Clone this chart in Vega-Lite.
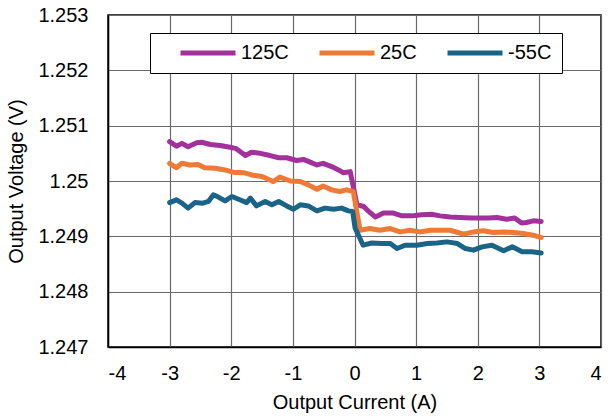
{
  "$schema": "https://vega.github.io/schema/vega-lite/v6.json",
  "width": 493,
  "height": 332,
  "autosize": {"type": "none"},
  "padding": {"left": 108, "top": 15, "right": 7, "bottom": 73},
  "background": "white",
  "config": {
    "font": "Liberation Sans",
    "view": {"stroke": "#000", "strokeWidth": 1.5}
  },
  "datasets": {
    "d125": [
      {"x": -3.0, "y": 1.25071}, {"x": -2.89, "y": 1.25063}, {"x": -2.8, "y": 1.25068}, {"x": -2.7, "y": 1.25062},
      {"x": -2.56, "y": 1.25069}, {"x": -2.48, "y": 1.2507}, {"x": -2.34, "y": 1.25066}, {"x": -2.18, "y": 1.25064},
      {"x": -2.02, "y": 1.25061}, {"x": -1.93, "y": 1.25059}, {"x": -1.77, "y": 1.25046}, {"x": -1.67, "y": 1.25052},
      {"x": -1.53, "y": 1.2505}, {"x": -1.37, "y": 1.25046}, {"x": -1.23, "y": 1.25042}, {"x": -1.1, "y": 1.25042},
      {"x": -0.94, "y": 1.25037}, {"x": -0.83, "y": 1.25039}, {"x": -0.72, "y": 1.25034}, {"x": -0.61, "y": 1.25029},
      {"x": -0.51, "y": 1.25032}, {"x": -0.37, "y": 1.25026}, {"x": -0.26, "y": 1.2502}, {"x": -0.18, "y": 1.25015},
      {"x": -0.07, "y": 1.25017}, {"x": 0.04, "y": 1.24957}, {"x": 0.15, "y": 1.24954}, {"x": 0.23, "y": 1.24945},
      {"x": 0.34, "y": 1.24935}, {"x": 0.47, "y": 1.24942}, {"x": 0.63, "y": 1.24942}, {"x": 0.77, "y": 1.24937},
      {"x": 0.93, "y": 1.24937}, {"x": 1.09, "y": 1.24939}, {"x": 1.25, "y": 1.2494}, {"x": 1.39, "y": 1.24937},
      {"x": 1.55, "y": 1.24935}, {"x": 1.71, "y": 1.24934}, {"x": 1.9, "y": 1.24933}, {"x": 2.04, "y": 1.24933},
      {"x": 2.17, "y": 1.24933}, {"x": 2.31, "y": 1.24934}, {"x": 2.47, "y": 1.24931}, {"x": 2.6, "y": 1.24933},
      {"x": 2.71, "y": 1.24924}, {"x": 2.79, "y": 1.24925}, {"x": 2.9, "y": 1.24928}, {"x": 3.03, "y": 1.24927}
    ],
    "d25": [
      {"x": -3.0, "y": 1.25032}, {"x": -2.89, "y": 1.25024}, {"x": -2.8, "y": 1.25032}, {"x": -2.67, "y": 1.25029},
      {"x": -2.54, "y": 1.2503}, {"x": -2.43, "y": 1.25024}, {"x": -2.26, "y": 1.25023}, {"x": -2.1, "y": 1.2502},
      {"x": -1.97, "y": 1.25016}, {"x": -1.8, "y": 1.25015}, {"x": -1.67, "y": 1.25011}, {"x": -1.5, "y": 1.25008},
      {"x": -1.32, "y": 1.24999}, {"x": -1.21, "y": 1.25007}, {"x": -1.04, "y": 1.25}, {"x": -0.88, "y": 1.24999},
      {"x": -0.75, "y": 1.24993}, {"x": -0.61, "y": 1.24985}, {"x": -0.51, "y": 1.24991}, {"x": -0.37, "y": 1.24984},
      {"x": -0.24, "y": 1.24981}, {"x": -0.13, "y": 1.24984}, {"x": -0.02, "y": 1.24981}, {"x": 0.09, "y": 1.24911},
      {"x": 0.25, "y": 1.24914}, {"x": 0.41, "y": 1.24911}, {"x": 0.58, "y": 1.24914}, {"x": 0.74, "y": 1.24908},
      {"x": 0.9, "y": 1.24911}, {"x": 1.06, "y": 1.24908}, {"x": 1.23, "y": 1.24911}, {"x": 1.39, "y": 1.24911},
      {"x": 1.55, "y": 1.24911}, {"x": 1.77, "y": 1.24904}, {"x": 1.93, "y": 1.24908}, {"x": 2.09, "y": 1.2491},
      {"x": 2.25, "y": 1.24907}, {"x": 2.42, "y": 1.24908}, {"x": 2.58, "y": 1.24907}, {"x": 2.74, "y": 1.24905},
      {"x": 2.9, "y": 1.24902}, {"x": 3.03, "y": 1.24898}
    ],
    "dm55": [
      {"x": -3.0, "y": 1.24961}, {"x": -2.89, "y": 1.24966}, {"x": -2.8, "y": 1.2496}, {"x": -2.7, "y": 1.24951},
      {"x": -2.59, "y": 1.24961}, {"x": -2.46, "y": 1.2496}, {"x": -2.37, "y": 1.24963}, {"x": -2.29, "y": 1.24975},
      {"x": -2.21, "y": 1.24971}, {"x": -2.1, "y": 1.24964}, {"x": -1.99, "y": 1.24972}, {"x": -1.86, "y": 1.24966},
      {"x": -1.75, "y": 1.24961}, {"x": -1.69, "y": 1.24969}, {"x": -1.59, "y": 1.24955}, {"x": -1.45, "y": 1.24963},
      {"x": -1.34, "y": 1.24957}, {"x": -1.23, "y": 1.24963}, {"x": -1.1, "y": 1.24955}, {"x": -0.99, "y": 1.24949},
      {"x": -0.88, "y": 1.24957}, {"x": -0.75, "y": 1.24955}, {"x": -0.61, "y": 1.24946}, {"x": -0.48, "y": 1.24951},
      {"x": -0.34, "y": 1.24949}, {"x": -0.21, "y": 1.24951}, {"x": -0.1, "y": 1.24946}, {"x": -0.03, "y": 1.24945},
      {"x": 0.01, "y": 1.24915}, {"x": 0.14, "y": 1.24884}, {"x": 0.28, "y": 1.24888}, {"x": 0.44, "y": 1.24887},
      {"x": 0.58, "y": 1.24887}, {"x": 0.69, "y": 1.24878}, {"x": 0.82, "y": 1.24884}, {"x": 1.01, "y": 1.24884},
      {"x": 1.18, "y": 1.24887}, {"x": 1.34, "y": 1.24888}, {"x": 1.5, "y": 1.2489}, {"x": 1.67, "y": 1.24887},
      {"x": 1.8, "y": 1.24878}, {"x": 1.93, "y": 1.24875}, {"x": 2.07, "y": 1.24881}, {"x": 2.23, "y": 1.24884},
      {"x": 2.42, "y": 1.24874}, {"x": 2.56, "y": 1.24881}, {"x": 2.72, "y": 1.24872}, {"x": 2.88, "y": 1.24872},
      {"x": 3.03, "y": 1.2487}
    ]
  },
  "layer": [
    {
      "data": {"name": "d125"},
      "transform": [{"calculate": "'125C'", "as": "series"}],
      "mark": {"type": "line", "strokeWidth": 5, "strokeCap": "round", "strokeJoin": "round"},
      "encoding": {
        "x": {"field": "x", "type": "quantitative"},
        "y": {"field": "y", "type": "quantitative"},
        "color": {"field": "series", "type": "nominal"}
      }
    },
    {
      "data": {"name": "d25"},
      "transform": [{"calculate": "'25C'", "as": "series"}],
      "mark": {"type": "line", "strokeWidth": 5, "strokeCap": "round", "strokeJoin": "round"},
      "encoding": {
        "x": {"field": "x", "type": "quantitative"},
        "y": {"field": "y", "type": "quantitative"},
        "color": {"field": "series", "type": "nominal"}
      }
    },
    {
      "data": {"name": "dm55"},
      "transform": [{"calculate": "'-55C'", "as": "series"}],
      "mark": {"type": "line", "strokeWidth": 5, "strokeCap": "round", "strokeJoin": "round"},
      "encoding": {
        "x": {
          "field": "x", "type": "quantitative",
          "scale": {"domain": [-4, 4], "nice": false, "zero": false},
          "axis": {
            "title": "Output Current (A)", "values": [-4, -3, -2, -1, 0, 1, 2, 3, 4], "labelExpr": "'' + datum.value",
            "labelFontSize": 20, "titleFontSize": 20, "labelColor": "#000", "titleColor": "#000",
            "titleFontWeight": "normal", "labelPadding": 16, "titlePadding": 9, "ticks": false,
            "domainColor": "#000", "domainWidth": 1.5, "gridColor": "#6a6a6a", "gridWidth": 1.2, "gridOpacity": 1
          }
        },
        "y": {
          "field": "y", "type": "quantitative",
          "scale": {"domain": [1.247, 1.253], "nice": false, "zero": false},
          "axis": {
            "title": "Output Voltage (V)", "values": [1.247, 1.248, 1.249, 1.25, 1.251, 1.252, 1.253], "format": "~g",
            "labelFontSize": 20, "titleFontSize": 20, "labelColor": "#000", "titleColor": "#000",
            "titleFontWeight": "normal", "labelPadding": 20, "titlePadding": 11, "ticks": false,
            "domainColor": "#000", "domainWidth": 1.5, "gridColor": "#6a6a6a", "gridWidth": 1.2, "gridOpacity": 1
          }
        },
        "color": {
          "field": "series", "type": "nominal",
          "scale": {"domain": ["125C", "25C", "-55C"], "range": ["#A3319C", "#EE7A35", "#1A6487"]},
          "legend": {
            "title": null, "orient": "none", "direction": "horizontal", "legendX": 42, "legendY": 18,
            "symbolType": "M1.5,0H9.36", "symbolSize": 196, "symbolStrokeWidth": 5, "labelFontSize": 20,
            "labelColor": "#000", "labelOffset": 61, "columnPadding": 10, "padding": 10,
            "labelExpr": "datum.label == '-55C' ? datum.label + '\u00a0\u00a0' : datum.label",
            "strokeColor": "#000", "fillColor": "#fff"
          }
        }
      }
    }
  ]
}
